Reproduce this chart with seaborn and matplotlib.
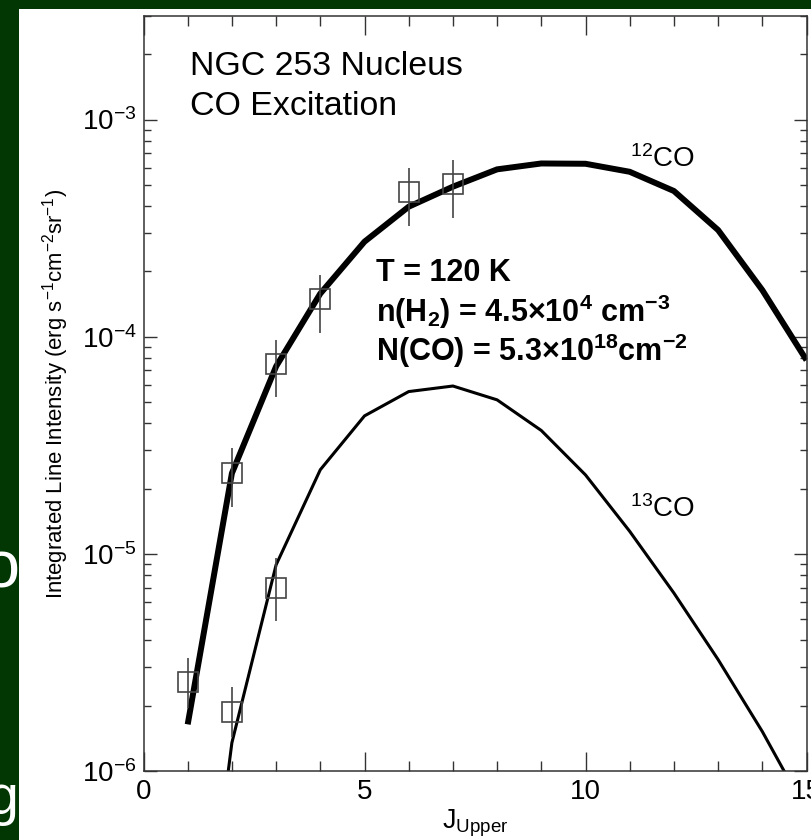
import seaborn as sns
import matplotlib.pyplot as plt
from matplotlib import font_manager
from matplotlib.patches import Rectangle
from matplotlib.ticker import MultipleLocator, LogLocator, NullFormatter

# LVG model curves
j_model = [1, 2, 3, 4, 5, 6, 7, 8, 9, 10, 11, 12, 13, 14, 15]
co12_model = [1.64e-6, 2.35e-5, 7.3e-5, 1.58e-4, 2.74e-4, 3.97e-4, 4.91e-4,
              5.9e-4, 6.28e-4, 6.26e-4, 5.75e-4, 4.69e-4, 3.1e-4, 1.64e-4, 7.8e-5]
co13_model = [3.5e-8, 1.35e-6, 8.9e-6, 2.44e-5, 4.32e-5, 5.59e-5, 5.93e-5,
              5.12e-5, 3.7e-5, 2.31e-5, 1.27e-5, 6.6e-6, 3.26e-6, 1.52e-6, 6.5e-7]

# observed line intensities with error ranges
j12_obs = [1, 2, 3, 4, 6, 7]
co12_obs = [2.56e-6, 2.35e-5, 7.5e-5, 1.49e-4, 4.62e-4, 5.03e-4]
co12_lo = [1.95e-6, 1.65e-5, 5.3e-5, 1.04e-4, 3.24e-4, 3.51e-4]
co12_hi = [3.33e-6, 3.07e-5, 9.7e-5, 1.92e-4, 5.96e-4, 6.5e-4]

j13_obs = [2, 3]
co13_obs = [1.87e-6, 6.97e-6]
co13_lo = [1.44e-6, 4.89e-6]
co13_hi = [2.44e-6, 9.6e-6]

green = "#023602"

sns.set_style("ticks")
names = {f.name for f in font_manager.fontManager.ttflist}
narrow = "Liberation Sans Narrow" if "Liberation Sans Narrow" in names else "Liberation Sans"
nscale = 1.0 if narrow == "Liberation Sans Narrow" else 0.84

plt.rcParams["font.family"] = ["Liberation Sans", "DejaVu Sans"]
plt.rcParams["mathtext.fontset"] = "custom"
plt.rcParams["mathtext.rm"] = narrow
plt.rcParams["mathtext.bf"] = "Liberation Sans:bold"
plt.rcParams["mathtext.it"] = "Liberation Sans:italic"
plt.rcParams["text.color"] = "black"
plt.rcParams["axes.labelcolor"] = "black"
plt.rcParams["xtick.labelcolor"] = "black"
plt.rcParams["ytick.labelcolor"] = "black"

fig = plt.figure(figsize=(8.11, 8.40), dpi=100, facecolor=green)
# white slide panel, with bits of slide text peeking out on the left
fig.text(19 / 811, 1 - 570 / 840, "o", ha="right", va="center", fontsize=48,
         color="white", zorder=0.2)
fig.text(19 / 811, 1 - 800 / 840, "g", ha="right", va="center", fontsize=40,
         color="white", zorder=0.2)
fig.add_artist(Rectangle((19 / 811, 0), 1 - 19 / 811, 1 - 9 / 840,
                         transform=fig.transFigure, facecolor="white",
                         edgecolor="none", zorder=0.5))

ax = fig.add_axes([143.5 / 811, 69 / 840, 663 / 811, 755 / 840])
ax.set_zorder(1)
ax.set_yscale("log")

sns.lineplot(x=j_model, y=co12_model, ax=ax, color="black", linewidth=4.3,
             solid_capstyle="butt")
sns.lineplot(x=j_model, y=co13_model, ax=ax, color="black", linewidth=2.2)

for j, v, lo, hi in ((j12_obs, co12_obs, co12_lo, co12_hi),
                     (j13_obs, co13_obs, co13_lo, co13_hi)):
    yerr = [[a - b for a, b in zip(v, lo)], [b - a for a, b in zip(v, hi)]]
    ax.errorbar(j, v, yerr=yerr, fmt="s", ms=15, mfc="none", mec="#444",
                mew=1.2, ecolor="#444", elinewidth=1.2, capsize=0, zorder=3)

ax.set_xlim(0, 15)
ax.set_ylim(1e-6, 3e-3)
ax.xaxis.set_major_locator(MultipleLocator(5))
ax.xaxis.set_minor_locator(MultipleLocator(1))
ax.yaxis.set_major_locator(LogLocator(base=10))
ax.yaxis.set_minor_locator(LogLocator(base=10, subs=range(2, 10)))
ax.yaxis.set_minor_formatter(NullFormatter())

ax.tick_params(which="both", direction="in", top=True, right=True,
               width=1, color="#333", labelsize=20)
ax.tick_params(axis="x", which="major", length=14, pad=6)
ax.tick_params(axis="x", which="minor", length=7)
ax.tick_params(axis="y", which="major", length=9.5, pad=5)
ax.tick_params(axis="y", which="minor", length=5)
for s in ax.spines.values():
    s.set_linewidth(1.1)
    s.set_color("#333")

ax.set_xlabel(r"J$_{\rm Upper}$", family=narrow, fontsize=23 * nscale, labelpad=2)
ax.set_ylabel(r"Integrated Line Intensity (erg s$^{-1}$cm$^{-2}$sr$^{-1}$)",
              family=narrow, fontsize=19 * nscale, labelpad=8)

ax.text(1.05, 1.76e-3, "NGC 253 Nucleus", family=narrow, fontsize=29 * nscale,
        va="center")
ax.text(1.05, 1.15e-3, "CO Excitation", family=narrow, fontsize=29 * nscale,
        va="center")

ax.text(5.25, 1.80e-4, "T = 120 K", fontsize=22, fontweight="bold")
ax.text(5.25, 1.173e-4, r"n(H$_\mathbf{2}$) = 4.5×10$^\mathbf{4}$ cm$^\mathbf{-3}$",
        fontsize=22, fontweight="bold")
ax.text(5.25, 7.74e-5, r"N(CO) = 5.3×10$^\mathbf{18}$cm$^\mathbf{-2}$",
        fontsize=22, fontweight="bold")

ax.text(11.0, 6.03e-4, r"$^{12}$CO", fontsize=20)
ax.text(11.0, 1.486e-5, r"$^{13}$CO", fontsize=20)

fig.savefig("out.png", dpi=100, facecolor=green)
